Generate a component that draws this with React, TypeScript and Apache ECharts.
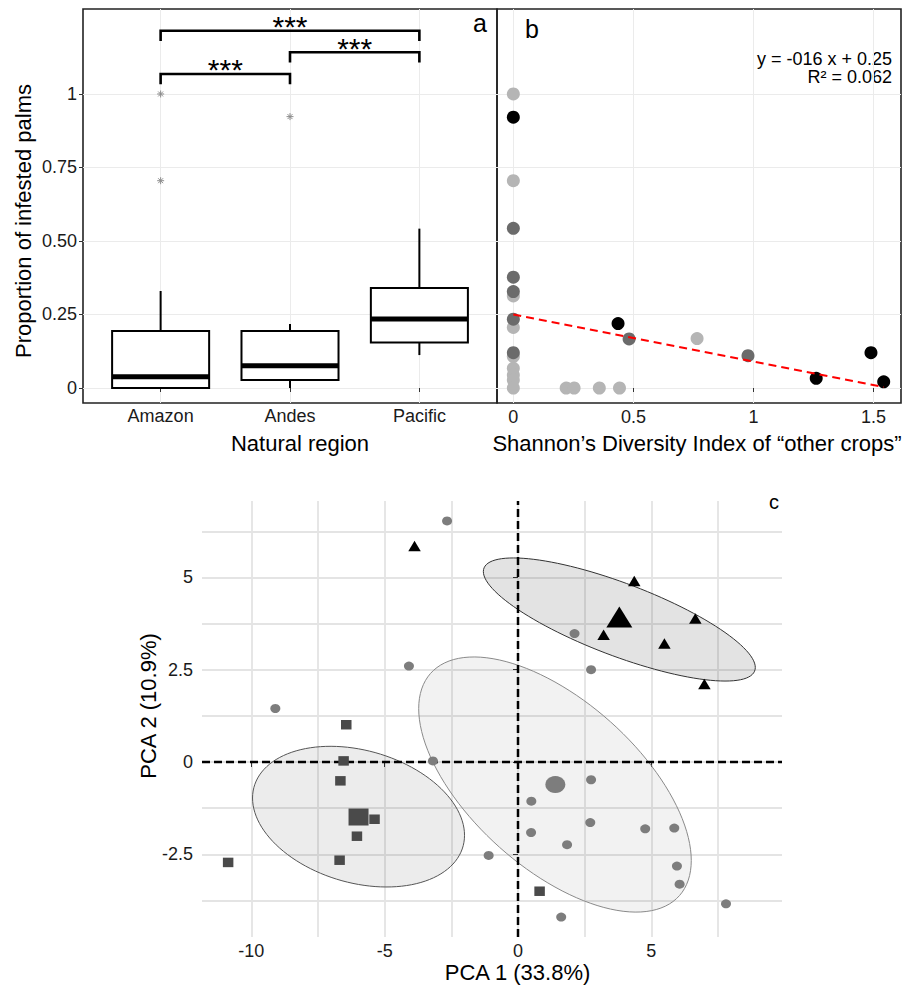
import React, { useEffect, useRef } from 'react';
import * as echarts from 'echarts';

// ---------- Panel a: boxplots ----------
const REGIONS = ['Amazon', 'Andes', 'Pacific'];
const BOX_LOW = [0, 0, 0.112];
const BOX_Q1 = [0, 0.027, 0.155];
const BOX_MEDIAN = [0.038, 0.076, 0.235];
const BOX_Q3 = [0.194, 0.194, 0.34];
const BOX_HIGH = [0.33, 0.218, 0.542];
const OUTLIERS: [number, number][] = [[1, 1.0], [1, 0.705], [2, 0.923]];
const Y_TICKS_A = [0, 0.25, 0.5, 0.75, 1];
// [from category, to category, bar height, end height]
const BRACKETS: [number, number, number, number][] = [
  [1, 2, 1.068, 1.033],
  [2, 3, 1.142, 1.107],
  [1, 3, 1.215, 1.18],
];
const BRACKET_LABEL = '***';

// ---------- Panel b: scatter vs Shannon index ----------
const B_BLACK: [number, number][] = [[0, 0.921], [0.436, 0.219], [1.261, 0.033], [1.489, 0.12], [1.542, 0.021]];
const B_DARK: [number, number][] = [[0, 0.543], [0, 0.377], [0, 0.328], [0, 0.234], [0, 0.12], [0.482, 0.167], [0.977, 0.11]];
const B_LIGHT: [number, number][] = [
  [0, 1.0], [0, 0.705], [0, 0.313], [0, 0.206], [0, 0.107], [0, 0.067], [0, 0.044], [0, 0.027], [0, 0],
  [0.22, 0], [0.253, 0], [0.358, 0], [0.442, 0], [0.765, 0.168],
];
const X_TICKS_B = [0, 0.5, 1, 1.5];
const REG_INTERCEPT = 0.25;
const REG_SLOPE = -0.16;
const REG_X_RANGE = [0, 1.542];
const EQ_LINE1 = 'y = -016 x + 0.25';
const EQ_LINE2 = 'R² = 0.062';

// ---------- Panel c: PCA ----------
const C_CIRCLES: [number, number][] = [
  [-2.66, 6.53], [-4.09, 2.6], [-9.1, 1.45], [2.12, 3.48], [2.74, 2.5], [-3.19, 0.03], [2.74, -0.48],
  [0.5, -1.06], [2.71, -1.64], [0.49, -1.91], [1.84, -2.24], [4.77, -1.81], [5.86, -1.79], [-1.1, -2.53],
  [5.96, -2.82], [6.06, -3.31], [7.8, -3.84], [1.62, -4.2],
];
const C_SQUARES: [number, number][] = [
  [-6.44, 1.01], [-6.54, 0.03], [-6.66, -0.51], [-5.38, -1.55], [-6.04, -2.01], [-6.69, -2.66],
  [-10.87, -2.72], [0.81, -3.5],
];
const C_TRIANGLES: [number, number][] = [[-3.88, 5.85], [4.36, 4.9], [6.65, 3.89], [3.21, 3.45], [5.49, 3.21], [6.99, 2.11]];
const CENTROID_CIRCLE: [number, number] = [1.4, -0.61];
const CENTROID_SQUARE: [number, number] = [-5.98, -1.49];
const CENTROID_TRIANGLE: [number, number] = [3.8, 3.93];
// [centre x, centre y, var x, cov xy, var y]
const ELLIPSES: number[][] = [
  [1.387, -0.61, 26.12, -10.51, 11.94],
  [-5.98, -1.48, 15.8, -2.007, 3.63],
  [3.8, 3.86, 26.0, -6.62, 2.78],
];
const X_TICKS_C = [-10, -5, 0, 5];
const X_GRID_C = [-10, -7.5, -5, -2.5, 0, 2.5, 5, 7.5];
const Y_TICKS_C = [-2.5, 0, 2.5, 5];
const Y_GRID_C = [-3.75, -2.5, -1.25, 0, 1.25, 2.5, 3.75, 5, 6.25];

const FONT = '"Liberation Sans", Arial, Helvetica, sans-serif';
const ELLIPSE_STYLES = [
  { fill: 'rgba(0,0,0,0.05)', stroke: '#8a8a8a' },
  { fill: 'rgba(0,0,0,0.075)', stroke: '#555' },
  { fill: 'rgba(0,0,0,0.11)', stroke: '#333' },
];

const A_Y = { min: -0.051, max: 1.289 };
const C_X = { min: -11.85, max: 9.9 };
const C_Y = { min: -4.74, max: 7.07 };

export default function App() {
  const ref = useRef<HTMLDivElement>(null);
  useEffect(() => {
    document.body.style.margin = '0';
    if (!ref.current) return;
    const chart = echarts.init(ref.current, undefined, { renderer: 'svg' });

    const tickStyle = { color: '#333', width: 1 };
    const labelBase = { fontSize: 18, color: '#1a1a1a', fontFamily: FONT };
    const pt = (color: string) => ({ color, opacity: 1 });

    const option: any = {
      animation: false,
      textStyle: { fontFamily: FONT },
      grid: [
        { left: 83, top: 9, width: 414, height: 394, show: true, borderColor: '#222', borderWidth: 1.6, outerBoundsMode: 'none' },
        { left: 497, top: 9, width: 404, height: 394, show: true, borderColor: '#222', borderWidth: 1.6, outerBoundsMode: 'none' },
        { left: 202, top: 501, width: 580, height: 436, show: false, outerBoundsMode: 'none' },
      ],
      xAxis: [
        {
          gridIndex: 0, type: 'value', min: 0.4, max: 3.6,
          axisLine: { show: false },
          axisTick: { show: true, customValues: [1, 2, 3], length: 4, lineStyle: tickStyle },
          axisLabel: { ...labelBase, customValues: [1, 2, 3], margin: 4, formatter: (v: number) => REGIONS[Math.round(v) - 1] },
          splitLine: { show: true, lineStyle: { color: '#ebebeb', width: 1 } },
        },
        {
          gridIndex: 1, type: 'value', min: -0.068, max: 1.614,
          axisLine: { show: false },
          axisTick: { show: true, customValues: X_TICKS_B, length: 4, lineStyle: tickStyle },
          axisLabel: { ...labelBase, customValues: X_TICKS_B, margin: 5 },
          splitLine: { show: true, lineStyle: { color: '#ebebeb', width: 1 } },
        },
        {
          gridIndex: 2, type: 'value', min: C_X.min, max: C_X.max,
          axisLine: { show: false },
          axisTick: { show: true, customValues: X_TICKS_C, length: 5, lineStyle: tickStyle },
          axisLabel: { ...labelBase, customValues: X_TICKS_C, margin: 5 },
          splitLine: { show: false },
        },
        {
          gridIndex: 2, type: 'value', min: C_X.min, max: C_X.max,
          axisLine: { show: false },
          axisTick: { show: false, customValues: X_GRID_C },
          axisLabel: { show: false },
          splitLine: { show: true, lineStyle: { color: '#e4e4e4', width: 1.8 } },
        },
      ],
      yAxis: [
        {
          gridIndex: 0, type: 'value', min: A_Y.min, max: A_Y.max,
          axisLine: { show: false },
          axisTick: { show: true, customValues: Y_TICKS_A, length: 4, lineStyle: tickStyle },
          axisLabel: {
            ...labelBase, customValues: Y_TICKS_A, margin: 6,
            formatter: (v: number) => (v === 0 ? '0' : v === 1 ? '1' : v.toFixed(2)),
          },
          splitLine: { show: true, lineStyle: { color: '#ebebeb', width: 1 } },
        },
        {
          gridIndex: 1, type: 'value', min: A_Y.min, max: A_Y.max,
          axisLine: { show: false },
          axisTick: { show: false, customValues: Y_TICKS_A },
          axisLabel: { show: false },
          splitLine: { show: true, lineStyle: { color: '#ebebeb', width: 1 } },
        },
        {
          gridIndex: 2, type: 'value', min: C_Y.min, max: C_Y.max,
          axisLine: { show: false },
          axisTick: { show: true, customValues: Y_TICKS_C, length: 5, lineStyle: tickStyle },
          axisLabel: { ...labelBase, customValues: Y_TICKS_C, margin: 9 },
          splitLine: { show: false },
        },
        {
          gridIndex: 2, type: 'value', min: C_Y.min, max: C_Y.max,
          axisLine: { show: false },
          axisTick: { show: false, customValues: Y_GRID_C },
          axisLabel: { show: false },
          splitLine: { show: true, lineStyle: { color: '#e4e4e4', width: 1.8 } },
        },
      ],
      series: [
        // Panel a boxes
        {
          type: 'custom', xAxisIndex: 0, yAxisIndex: 0, z: 3,
          data: REGIONS.map((_, i) => [i + 1, BOX_LOW[i], BOX_Q1[i], BOX_MEDIAN[i], BOX_Q3[i], BOX_HIGH[i]]),
          encode: { x: 0, y: [1, 2, 3, 4, 5] },
          renderItem: (_p: any, api: any) => {
            const x = api.value(0);
            const lo = api.coord([x, api.value(1)]);
            const q1 = api.coord([x, api.value(2)]);
            const md = api.coord([x, api.value(3)]);
            const q3 = api.coord([x, api.value(4)]);
            const hi = api.coord([x, api.value(5)]);
            const w = api.size([0.75, 0])[0];
            const st = { stroke: '#000', lineWidth: 2 };
            return {
              type: 'group',
              children: [
                { type: 'line', shape: { x1: hi[0], y1: hi[1], x2: q3[0], y2: q3[1] }, style: st },
                { type: 'line', shape: { x1: lo[0], y1: lo[1], x2: q1[0], y2: q1[1] }, style: st },
                { type: 'rect', shape: { x: q3[0] - w / 2, y: q3[1], width: w, height: q1[1] - q3[1] }, style: { fill: '#fff', stroke: '#000', lineWidth: 2 } },
                { type: 'line', shape: { x1: md[0] - w / 2, y1: md[1], x2: md[0] + w / 2, y2: md[1] }, style: { stroke: '#000', lineWidth: 5 } },
              ],
            };
          },
        },
        {
          type: 'scatter', xAxisIndex: 0, yAxisIndex: 0, z: 4,
          data: OUTLIERS,
          symbol: 'path://M0,-5L0,5M-5,0L5,0M-3.5,-3.5L3.5,3.5M-3.5,3.5L3.5,-3.5',
          symbolSize: 7,
          itemStyle: { color: 'none', borderColor: '#8c8c8c', borderWidth: 1, opacity: 1 },
        },
        {
          type: 'custom', xAxisIndex: 0, yAxisIndex: 0, z: 4,
          data: BRACKETS,
          encode: { x: [0, 1], y: [2, 3] },
          renderItem: (_p: any, api: any) => {
            const x1 = api.value(0), x2 = api.value(1), yb = api.value(2), ye = api.value(3);
            const a = api.coord([x1, ye]);
            const b = api.coord([x1, yb]);
            const c = api.coord([x2, yb]);
            const d = api.coord([x2, ye]);
            return {
              type: 'group',
              children: [
                { type: 'polyline', shape: { points: [a, b, c, d] }, style: { stroke: '#000', lineWidth: 2.6, fill: 'none' } },
                {
                  type: 'text', x: (b[0] + c[0]) / 2, y: b[1] - 4,
                  style: { text: BRACKET_LABEL, fontSize: 30, fontFamily: FONT, fill: '#000', align: 'center', verticalAlign: 'middle' },
                },
              ],
            };
          },
        },
        // Panel b
        { type: 'scatter', xAxisIndex: 1, yAxisIndex: 1, z: 3, data: B_LIGHT, symbolSize: 13, itemStyle: pt('#b5b5b5') },
        { type: 'scatter', xAxisIndex: 1, yAxisIndex: 1, z: 3, data: B_DARK, symbolSize: 13, itemStyle: pt('#6b6b6b') },
        { type: 'scatter', xAxisIndex: 1, yAxisIndex: 1, z: 3, data: B_BLACK, symbolSize: 13, itemStyle: pt('#000') },
        {
          type: 'line', xAxisIndex: 1, yAxisIndex: 1, z: 5, showSymbol: false, symbol: 'none',
          data: REG_X_RANGE.map((x) => [x, REG_INTERCEPT + REG_SLOPE * x]),
          lineStyle: { color: '#ff0000', width: 2, type: [8, 5] },
        },
        // Panel c
        {
          type: 'custom', xAxisIndex: 2, yAxisIndex: 2, z: 2,
          data: ELLIPSES.map((e, i) => [...e, i]),
          encode: { x: 0, y: 1 },
          renderItem: (_p: any, api: any) => {
            const cx = api.value(0), cy = api.value(1), sxx = api.value(2), sxy = api.value(3), syy = api.value(4);
            const idx = api.value(5);
            const l11 = Math.sqrt(sxx);
            const l21 = sxy / l11;
            const l22 = Math.sqrt(syy - l21 * l21);
            const pts: number[][] = [];
            for (let i = 0; i <= 120; i++) {
              const t = (i / 120) * Math.PI * 2;
              pts.push(api.coord([cx + l11 * Math.cos(t), cy + l21 * Math.cos(t) + l22 * Math.sin(t)]));
            }
            const s = ELLIPSE_STYLES[idx];
            return { type: 'polygon', shape: { points: pts }, style: { fill: s.fill, stroke: s.stroke, lineWidth: 1 } };
          },
        },
        {
          type: 'line', xAxisIndex: 2, yAxisIndex: 2, z: 3, showSymbol: false, symbol: 'none',
          data: [[0, C_Y.min], [0, C_Y.max]],
          lineStyle: { color: '#000', width: 2.5, type: [8, 4] },
        },
        {
          type: 'line', xAxisIndex: 2, yAxisIndex: 2, z: 3, showSymbol: false, symbol: 'none',
          data: [[C_X.min, 0], [C_X.max, 0]],
          lineStyle: { color: '#000', width: 2.5, type: [8, 4] },
        },
        { type: 'scatter', xAxisIndex: 2, yAxisIndex: 2, z: 4, data: C_CIRCLES, symbol: 'circle', symbolSize: [10, 9], itemStyle: pt('#7d7d7d') },
        { type: 'scatter', xAxisIndex: 2, yAxisIndex: 2, z: 4, data: C_SQUARES, symbol: 'rect', symbolSize: [10.5, 9.5], itemStyle: pt('#4a4a4a') },
        { type: 'scatter', xAxisIndex: 2, yAxisIndex: 2, z: 4, data: C_TRIANGLES, symbol: 'triangle', symbolSize: [12.5, 10.5], itemStyle: pt('#000') },
        { type: 'scatter', xAxisIndex: 2, yAxisIndex: 2, z: 4, data: [CENTROID_CIRCLE], symbol: 'circle', symbolSize: [20, 17], itemStyle: pt('#7d7d7d') },
        { type: 'scatter', xAxisIndex: 2, yAxisIndex: 2, z: 4, data: [CENTROID_SQUARE], symbol: 'rect', symbolSize: [20, 17], itemStyle: pt('#4a4a4a') },
        { type: 'scatter', xAxisIndex: 2, yAxisIndex: 2, z: 4, data: [CENTROID_TRIANGLE], symbol: 'triangle', symbolSize: [26, 21], itemStyle: pt('#000') },
      ],
      graphic: [
        { type: 'text', x: 480, y: 23, style: { text: 'a', fontSize: 25, fontFamily: FONT, fill: '#000', align: 'center', verticalAlign: 'middle' } },
        { type: 'text', x: 532, y: 28.5, style: { text: 'b', fontSize: 25, fontFamily: FONT, fill: '#000', align: 'center', verticalAlign: 'middle' } },
        { type: 'text', x: 774, y: 502, style: { text: 'c', fontSize: 20, fontFamily: FONT, fill: '#000', align: 'center', verticalAlign: 'middle' } },
        { type: 'text', x: 892, y: 58.5, style: { text: EQ_LINE1, fontSize: 18, fontFamily: FONT, fill: '#000', align: 'right', verticalAlign: 'middle' } },
        { type: 'text', x: 892, y: 77, style: { text: EQ_LINE2, fontSize: 18, fontFamily: FONT, fill: '#000', align: 'right', verticalAlign: 'middle' } },
        { type: 'text', x: 23.5, y: 221, rotation: Math.PI / 2, style: { text: 'Proportion of infested palms', fontSize: 22, fontFamily: FONT, fill: '#000', align: 'center', verticalAlign: 'middle' } },
        { type: 'text', x: 300, y: 443, style: { text: 'Natural region', fontSize: 22, fontFamily: FONT, fill: '#000', align: 'center', verticalAlign: 'middle' } },
        { type: 'text', x: 697, y: 443, style: { text: 'Shannon’s Diversity Index of “other crops”', fontSize: 22, fontFamily: FONT, fill: '#000', align: 'center', verticalAlign: 'middle' } },
        { type: 'text', x: 148, y: 706, rotation: Math.PI / 2, style: { text: 'PCA 2 (10.9%)', fontSize: 22, fontFamily: FONT, fill: '#000', align: 'center', verticalAlign: 'middle' } },
        { type: 'text', x: 517.5, y: 972.5, style: { text: 'PCA 1 (33.8%)', fontSize: 22, fontFamily: FONT, fill: '#000', align: 'center', verticalAlign: 'middle' } },
      ],
    };

    chart.setOption(option);
    return () => chart.dispose();
  }, []);

  return <div ref={ref} style={{ width: 917, height: 988 }} />;
}
